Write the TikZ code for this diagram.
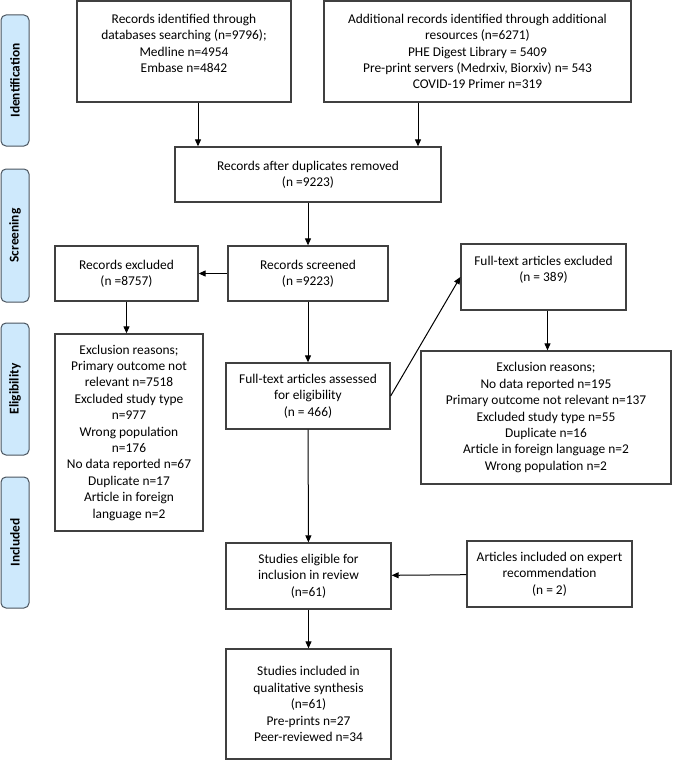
\documentclass[tikz,border=0pt]{standalone}
\usepackage{fontspec}
\setmainfont{Carlito}
\usepackage{xcolor}
\usetikzlibrary{arrows.meta,positioning}

\definecolor{boxgray}{RGB}{64,64,64}
\definecolor{tabfill}{RGB}{206,233,252}
\definecolor{tabline}{RGB}{75,85,95}

\begin{document}
\begin{tikzpicture}[x=1pt, y=-1pt,
    block/.style={rectangle, draw=boxgray, line width=1.3pt, align=center, inner sep=2pt, font=\fontsize{13.4}{16.4}\selectfont},
    tab/.style={rectangle, draw=tabline, fill=tabfill, line width=1pt, rounded corners=5pt, rotate=90, minimum height=28pt, font=\bfseries\fontsize{13.4}{15}\selectfont},
    arrow/.style={-{Triangle[length=7pt,width=6pt]}, line width=1pt}]

    \useasboundingbox (0,0) rectangle (672,760);

    % side tabs
    \node[tab, minimum width=131pt] (tabid)   at (15,80.5)  {Identification};
    \node[tab, minimum width=133pt] (tabscr)  at (15,235.5) {Screening};
    \node[tab, minimum width=132pt] (tabelig) at (15,389)   {Eligibility};
    \node[tab, minimum width=131pt] (tabincl) at (15,542.5) {Included};

    % identification
    \node[block, minimum width=214pt, minimum height=101pt] (ident) at (184,51.5)
        {Records identified through\\databases searching (n=9796);\\Medline n=4954\\Embase n=4842\\\mbox{}};
    \node[block, minimum width=307pt, minimum height=101pt] (addl) at (477.5,51.5)
        {Additional records identified through additional\\resources (n=6271)\\PHE Digest Library = 5409\\Pre-print servers (Medrxiv, Biorxiv) n= 543\\COVID-19 Primer n=319};

    % screening
    \node[block, minimum width=266pt, minimum height=55pt] (dups) at (308,174.5)
        {Records after duplicates removed\\(n =9223)};
    \node[block, minimum width=160pt, minimum height=55pt] (screened) at (308,273.5)
        {Records screened\\(n =9223)};
    \node[block, minimum width=143pt, minimum height=55pt] (recexcl) at (126.5,273.5)
        {Records excluded\\(n =8757)};

    % eligibility
    \node[block, minimum width=148pt, minimum height=197pt] (reasA) at (129,432.5)
        {Exclusion reasons;\\Primary outcome not\\relevant n=7518\\Excluded study type\\n=977\\Wrong population\\n=176\\No data reported n=67\\Duplicate n=17\\Article in foreign\\language n=2};
    \node[block, minimum width=164pt, minimum height=66pt] (assessed) at (308,396)
        {Full-text articles assessed\\for eligibility\\(n = 466)};
    \node[block, minimum width=165pt, minimum height=66pt] (ftexcl) at (543.5,277)
        {Full-text articles excluded\\(n = 389)\\\mbox{}};
    \node[block, minimum width=250pt, minimum height=133pt] (reasB) at (546,417.5)
        {Exclusion reasons;\\No data reported n=195\\Primary outcome not relevant n=137\\Excluded study type n=55\\Duplicate n=16\\Article in foreign language n=2\\Wrong population n=2};

    % included
    \node[block, minimum width=165pt, minimum height=66pt] (eligible) at (308.5,576)
        {Studies eligible for\\inclusion in review\\(n=61)};
    \node[block, minimum width=165pt, minimum height=66pt] (expert) at (549.5,574)
        {Articles included on expert\\recommendation\\(n = 2)};
    \node[block, minimum width=165pt, minimum height=110pt] (incl) at (308.5,704)
        {Studies included in\\qualitative synthesis\\(n=61)\\Pre-prints n=27\\Peer-reviewed n=34};

    \draw[arrow] ([xshift=14pt]ident.south) -- ([xshift=14pt]ident.south |- dups.north);
    \draw[arrow] ([xshift=-59.5pt]addl.south) -- ([xshift=-59.5pt]addl.south |- dups.north);
    \draw[arrow] (dups) -- (screened);
    \draw[arrow] (screened) -- (recexcl);
    \draw[arrow] (recexcl.south) -- (recexcl.south |- reasA.north);
    \draw[arrow] (screened) -- (assessed);
    \draw[arrow] (assessed.east) -- (ftexcl.west);
    \draw[arrow] ([xshift=4pt]ftexcl.south) -- ([xshift=4pt]ftexcl.south |- reasB.north);
    \draw[arrow] (assessed) -- (eligible);
    \draw[arrow] (expert) -- (eligible);
    \draw[arrow] (eligible) -- (incl);
\end{tikzpicture}
\end{document}
